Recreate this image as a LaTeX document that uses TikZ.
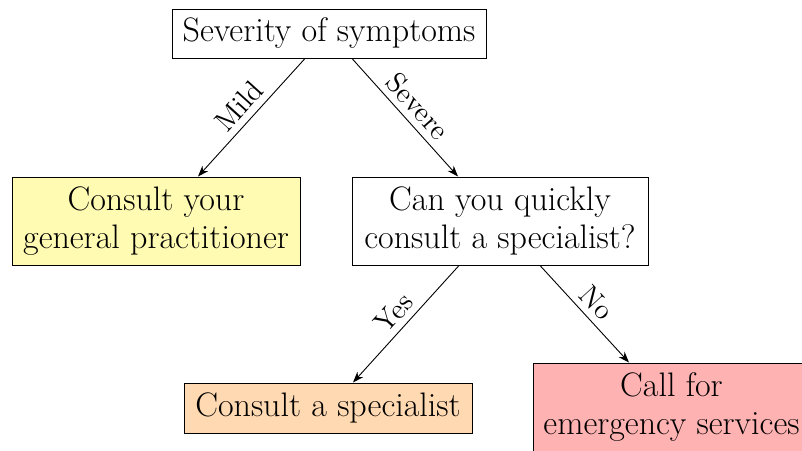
\documentclass[tikz,border=0pt]{standalone}
\usetikzlibrary{calc,arrows.meta}
\begin{document}
\begin{tikzpicture}[x=0.5pt,y=-0.5pt,
  box/.style={draw=black, line width=0.5pt, align=center, inner sep=0pt,
    font=\fontsize{17}{19}\selectfont},
  conn/.style={-{Stealth[length=5.5pt,width=4pt]}, line width=0.45pt},
  lbl/.style={font=\fontsize{14.4}{17}\selectfont, sloped, above, inner sep=3.2pt}
]
\clip (0,0) rectangle (802,450);
\useasboundingbox (0,0) rectangle (802,450);

\node[box, minimum width=157pt, minimum height=24.5pt] (top) at (329,33.5) {Severity of symptoms};
\node[box, fill=yellow!30, minimum width=144pt, minimum height=44pt] (gp) at (156,221) {Consult your\\general practitioner};
\node[box, minimum width=148pt, minimum height=44pt] (can) at (500,221) {Can you quickly\\consult a specialist?};
\node[box, fill=orange!30, minimum width=144pt, minimum height=25pt] (spec) at (328,408) {Consult a specialist};
\node[box, fill=red!30, minimum width=138.5pt, minimum height=44pt] (em) at (671.5,407) {Call for\\emergency services};

\draw[conn] ($(top.south)+(-24,0)$) -- node[lbl] {Mild} ($(gp.north)+(42,0)$);
\draw[conn] ($(top.south)+(23,0)$) -- node[lbl] {Severe} ($(can.north)+(-42,0)$);
\draw[conn] ($(can.south)+(-41,0)$) -- node[lbl] {Yes} ($(spec.north)+(25,0)$);
\draw[conn] ($(can.south)+(40,0)$) -- node[lbl] {No} ($(em.north)+(-42.5,0)$);
\end{tikzpicture}
\end{document}
